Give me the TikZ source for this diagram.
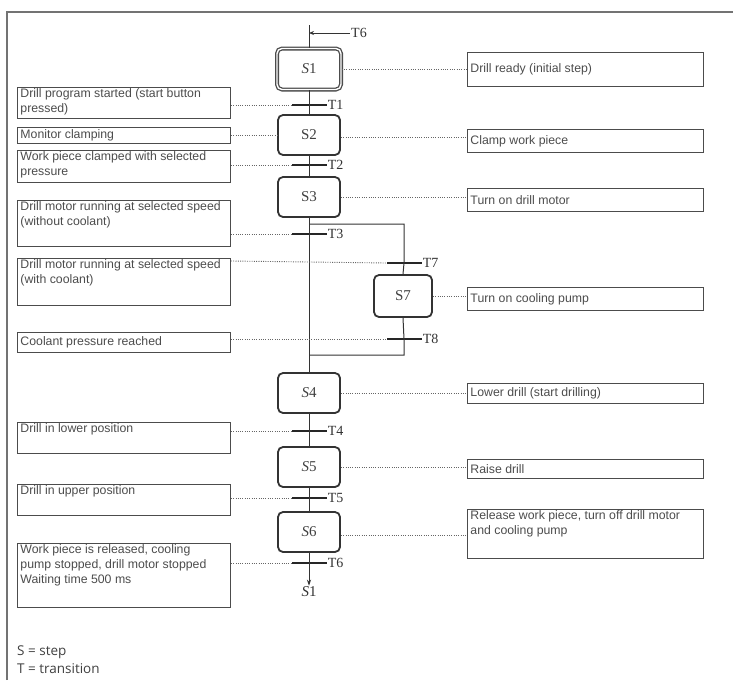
\documentclass[tikz,border=0pt]{standalone}
\usepackage{fontspec}
\setmainfont{Liberation Sans}
\newfontfamily\serifT{Liberation Serif}
\newfontfamily\legendfont{Open Sans}
\usetikzlibrary{arrows.meta}
\newcommand{\myb}[4]{\parbox[c][#2][#3]{#1}{\raggedright #4}}
\tikzset{
  stepbox/.style={draw=black!80, line width=1.8pt, rounded corners=5pt, minimum width=62pt,
    minimum height=40pt, inner sep=0pt, font=\serifT\fontsize{15}{15}\selectfont, text=black!75},
  initstep/.style={stepbox, line width=1.3pt, double=white, double distance=1.4pt, draw=black!70,
    minimum width=64pt, minimum height=41pt},
  lbox/.style={draw=black!70, line width=0.9pt, anchor=north west, inner xsep=3pt, inner ysep=1.5pt,
    font=\fontsize{12.3}{15}\selectfont, text=black!70},
  trbar/.style={fill=black!85, minimum width=35pt, minimum height=2.2pt, inner sep=0pt},
  tlab/.style={font=\serifT\fontsize{14}{14}\selectfont, anchor=west, inner sep=1pt, text=black!80},
  dots/.style={line width=0.9pt, black!60, dash pattern=on 1pt off 1.3pt},
  flow/.style={line width=1pt, black!80},
}
\begin{document}
\begin{tikzpicture}[x=1pt,y=-1pt]
\useasboundingbox (0,0) rectangle (733,680);
% frame
\draw[line width=1.2pt, black!55] (7,680) -- (7,12) -- (733,12);

% steps
\node[initstep] (S1) at (309,69) {\textit{S}1};
\node[stepbox] (S2) at (309,135) {S2};
\node[stepbox] (S3) at (309,197) {S3};
\node[stepbox, minimum width=58pt, minimum height=42pt] (S7) at (403,296) {S7};
\node[stepbox] (S4) at (309,393) {\textit{S}4};
\node[stepbox] (S5) at (309,467) {\textit{S}5};
\node[stepbox] (S6) at (309,532) {\textit{S}6};

% transitions
\node[trbar] (T1) at (309,105) {};
\node[trbar] (T2) at (309,165) {};
\node[trbar] (T3) at (309,234) {};
\node[trbar] (T7) at (404,263) {};
\node[trbar] (T8) at (404,339) {};
\node[trbar] (T4) at (309,431) {};
\node[trbar] (T5) at (309,498) {};
\node[trbar] (T6) at (309,563) {};
\node[tlab] (T1l) at (T1.east) {T1};
\node[tlab] (T2l) at (T2.east) {T2};
\node[tlab] (T3l) at (T3.east) {T3};
\node[tlab] (T7l) at (T7.east) {T7};
\node[tlab] (T8l) at (T8.east) {T8};
\node[tlab] (T4l) at (T4.east) {T4};
\node[tlab] (T5l) at (T5.east) {T5};
\node[tlab] (T6l) at (T6.east) {T6};

% top entry and bottom exit
\coordinate (top) at (309,25);
\coordinate (topT) at (309,33);
\node[tlab] (T6top) at (350,33) {T6};
\node[font=\serifT\fontsize{15}{15}\selectfont, text=black!80, inner sep=1pt] (S1b) at (309,592) {\textit{S}1};
\coordinate (brA) at (309,224);
\coordinate (brB) at (404,224);
\coordinate (brC) at (404,355);
\coordinate (brD) at (309,355);

% flow lines
\draw[flow] (top) -- (S1.north);
\draw[flow, -{Stealth[length=5pt,width=4pt]}] (T6top.west) -- (topT);
\draw[flow] (S1.south) -- (S2.north);
\draw[flow] (S2.south) -- (S3.north);
\draw[flow] (S3.south) -- (S4.north);
\draw[flow] (brA) -- (brB) -- (T7.center) -- (S7.north);
\draw[flow] (S7.south) -- (T8.center) -- (brC) -- (brD);
\draw[flow] (S4.south) -- (S5.north);
\draw[flow] (S5.south) -- (S6.north);
\draw[flow, -{Stealth[length=6pt,width=4pt]}] (S6.south) -- (S1b.north);

% left boxes
\node[lbox] (L1) at (17,87) {\myb{207pt}{28pt}{t}{Drill program started (start button\\pressed)}};
\node[lbox] (L2) at (17,127) {\myb{207pt}{13pt}{c}{Monitor clamping}};
\node[lbox] (L3) at (17,150) {\myb{207pt}{29pt}{t}{Work piece clamped with selected\\pressure}};
\node[lbox] (L4) at (17,200) {\myb{207pt}{43pt}{t}{Drill motor running at selected speed\\(without coolant)}};
\node[lbox] (L5) at (17,258) {\myb{207pt}{44pt}{t}{Drill motor running at selected speed\\(with coolant)}};
\node[lbox] (L6) at (17,332) {\myb{207pt}{17pt}{c}{Coolant pressure reached}};
\node[lbox] (L7) at (17,422) {\myb{207pt}{28pt}{t}{Drill in lower position}};
\node[lbox] (L8) at (17,484) {\myb{207pt}{28pt}{t}{Drill in upper position}};
\node[lbox] (L9) at (17,543) {\myb{207pt}{61pt}{t}{Work piece is released, cooling\\pump stopped, drill motor stopped\\Waiting time 500 ms}};

% right boxes
\node[lbox] (R1) at (467,52) {\myb{230pt}{31pt}{c}{Drill ready (initial step)}};
\node[lbox] (R2) at (467,129) {\myb{230pt}{20pt}{c}{Clamp work piece}};
\node[lbox] (R3) at (467,188) {\myb{230pt}{20pt}{c}{Turn on drill motor}};
\node[lbox] (R4) at (467,287) {\myb{230pt}{20pt}{c}{Turn on cooling pump}};
\node[lbox] (R5) at (467,383) {\myb{230pt}{17pt}{c}{Lower drill (start drilling)}};
\node[lbox] (R6) at (467,459) {\myb{230pt}{16pt}{c}{Raise drill}};
\node[lbox] (R7) at (467,509) {\myb{230pt}{46pt}{t}{Release work piece, turn off drill motor\\and cooling pump}};

% dotted links, left
\draw[dots] (L1.east |- T1) -- (T1.west);
\draw[dots] (L2.east |- S2) -- (S2.west);
\draw[dots] (L3.east |- T2) -- (T2.west);
\draw[dots] (L4.east |- T3) -- (T3.west);
\draw[dots] (L5.north east) ++(0,3) -- (T7.west);
\draw[dots] (L6.east |- T8) -- (T8.west);
\draw[dots] (L7.east |- T4) -- (T4.west);
\draw[dots] (L8.east |- T5) -- (T5.west);
\draw[dots] (L9.east |- T6) -- (T6.west);

% dotted links, right
\draw[dots] (S1.east) -- (S1.east -| R1.west);
\draw[dots] (S2.east) ++(0,2) -- (R2.west |- 0,137);
\draw[dots] (S3.east) -- (S3.east -| R3.west);
\draw[dots] (S7.east) -- (S7.east -| R4.west);
\draw[dots] (S4.east) -- (S4.east -| R5.west);
\draw[dots] (S5.east) -- (S5.east -| R6.west);
\draw[dots] (S6.east) ++(0,3) -- (R7.west |- 0,535);

% legend
\node[anchor=west, inner sep=0pt, font=\legendfont\fontsize{13.5}{16}\selectfont, text=black!75] (leg1) at (17,652) {S = step};
\node[anchor=west, inner sep=0pt, font=\legendfont\fontsize{13.5}{16}\selectfont, text=black!75] (leg2) at (17,669) {T = transition};
\end{tikzpicture}
\end{document}
